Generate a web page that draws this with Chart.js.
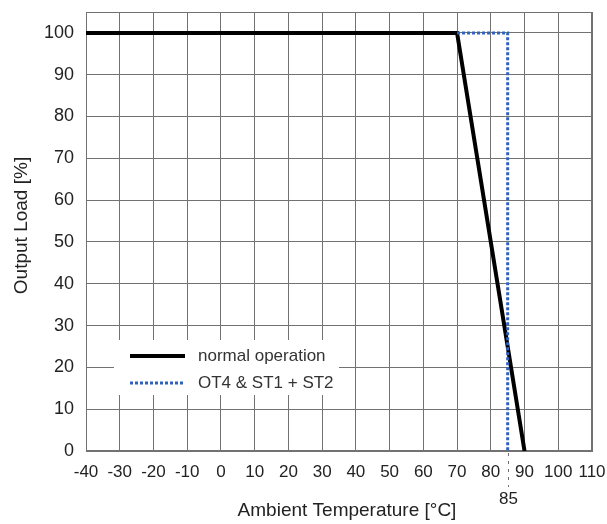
<!DOCTYPE html>
<html>
<head>
<meta charset="utf-8">
<script src="https://cdn.jsdelivr.net/npm/chart.js@4.4.1/dist/chart.umd.min.js"></script>
<style>
  html, body { margin: 0; padding: 0; background: #ffffff; }
  #wrap { width: 607px; height: 524px; position: relative; }
</style>
</head>
<body>
<div id="wrap"><canvas id="c" width="607" height="524"></canvas></div>
<script>
// ---- Data ----
const normalTemps = [-40, 70, 90];
const normalLoads = [100, 100, 0];
const otTemps = [70, 85, 85];
const otLoads = [100, 100, 0];
const seriesLabels = ['normal operation', 'OT4 & ST1 + ST2'];
const xTickValues = [-40, -30, -20, -10, 0, 10, 20, 30, 40, 50, 60, 70, 80, 90, 100, 110];
const yTickValues = [0, 10, 20, 30, 40, 50, 60, 70, 80, 90, 100];
const extraXTick = 85;
const xTitle = 'Ambient Temperature [°C]';
const yTitle = 'Output Load [%]';

const FONT = "'Liberation Sans', Arial, sans-serif";
const TEXT = '#222222';
const GRID = '#727272';
const BLACK = '#000000';
const BLUE = '#2e62bd';

Chart.defaults.font.family = FONT;
Chart.defaults.color = TEXT;

const toPts = (xs, ys) => xs.map((x, i) => ({ x: x, y: ys[i] }));

const frame = {
  id: 'frame',
  beforeDatasetsDraw(chart) {
    const { ctx, chartArea: a } = chart;
    ctx.save();
    ctx.strokeStyle = GRID;
    ctx.lineWidth = 1;
    ctx.strokeRect(Math.round(a.left) + 0.5, Math.round(a.top) + 0.5,
                   Math.round(a.right - a.left) - 1, Math.round(a.bottom - a.top) - 1);
    ctx.restore();
  },
  afterDatasetsDraw(chart) {
    const { ctx, chartArea: a, scales } = chart;
    const xs = scales.x;
    ctx.save();
    // Legend box
    const bx = a.left + 28, by = a.top + 328, bw = 225, bh = 55;
    ctx.fillStyle = '#ffffff';
    ctx.fillRect(bx, by, bw, bh);
    const ds = chart.data.datasets;
    const rows = [by + 16, by + 43];
    ds.forEach((d, i) => {
      const y = rows[i];
      ctx.beginPath();
      ctx.strokeStyle = d.borderColor;
      ctx.lineWidth = d.borderWidth;
      ctx.setLineDash(d.borderDash || []);
      ctx.moveTo(bx + 16, y);
      ctx.lineTo(bx + 71, y);
      ctx.stroke();
      ctx.setLineDash([]);
      ctx.fillStyle = '#333333';
      ctx.font = '17px ' + FONT;
      ctx.textAlign = 'left';
      ctx.textBaseline = 'middle';
      ctx.fillText(d.label, bx + 84, y);
    });
    // Extra 85 tick
    const px = Math.round(xs.getPixelForValue(extraXTick)) + 0.5;
    ctx.beginPath();
    ctx.strokeStyle = GRID;
    ctx.lineWidth = 1;
    ctx.setLineDash([3, 5]);
    ctx.moveTo(px, a.bottom + 2);
    ctx.lineTo(px, a.bottom + 36);
    ctx.stroke();
    ctx.setLineDash([]);
    ctx.fillStyle = TEXT;
    ctx.font = '17px ' + FONT;
    ctx.textAlign = 'center';
    ctx.textBaseline = 'middle';
    ctx.fillText(String(extraXTick), px, a.bottom + 48);
    // Axis titles
    ctx.font = '19px ' + FONT;
    ctx.fillText(xTitle, (a.left + a.right) / 2 + 8, a.bottom + 60);
    ctx.save();
    ctx.translate(22, (a.top + a.bottom) / 2 - 6);
    ctx.rotate(-Math.PI / 2);
    ctx.fillText(yTitle, 0, 0);
    ctx.restore();
    ctx.restore();
  }
};

new Chart(document.getElementById('c'), {
  type: 'line',
  data: {
    datasets: [
      {
        label: seriesLabels[0],
        data: toPts(normalTemps, normalLoads),
        borderColor: BLACK,
        borderWidth: 4,
        borderDash: [],
        pointRadius: 0,
        tension: 0,
        fill: false,
        order: 2,
        borderJoinStyle: 'miter'
      },
      {
        label: seriesLabels[1],
        data: toPts(otTemps, otLoads),
        borderColor: BLUE,
        borderWidth: 3,
        borderDash: [3, 2],
        pointRadius: 0,
        tension: 0,
        fill: false,
        order: 1,
        borderJoinStyle: 'miter'
      }
    ]
  },
  options: {
    responsive: false,
    animation: false,
    devicePixelRatio: 1,
    layout: { padding: { top: 12, right: 15, left: 0, bottom: 0 } },
    plugins: { legend: { display: false }, tooltip: { enabled: false } },
    scales: {
      x: {
        type: 'linear',
        min: -40, max: 110,
        afterFit(s) { s.height = 73; s.paddingLeft = 0; s.paddingRight = 0; },
        afterBuildTicks(s) { s.ticks = xTickValues.map(v => ({ value: v })); },
        ticks: { font: { size: 17 }, color: TEXT, padding: 11, maxRotation: 0, autoSkip: false },
        grid: { color: GRID, lineWidth: 1, drawTicks: false },
        border: { color: GRID, width: 1 }
      },
      y: {
        type: 'linear',
        min: 0, max: 105,
        afterFit(s) { s.width = 86; s.paddingTop = 0; s.paddingBottom = 0; },
        afterBuildTicks(s) { s.ticks = yTickValues.map(v => ({ value: v })); },
        ticks: { font: { size: 18 }, color: TEXT, padding: 12, autoSkip: false },
        grid: { color: GRID, lineWidth: 1, drawTicks: false },
        border: { color: GRID, width: 1 }
      }
    }
  },
  plugins: [frame]
});
</script>
</body>
</html>
